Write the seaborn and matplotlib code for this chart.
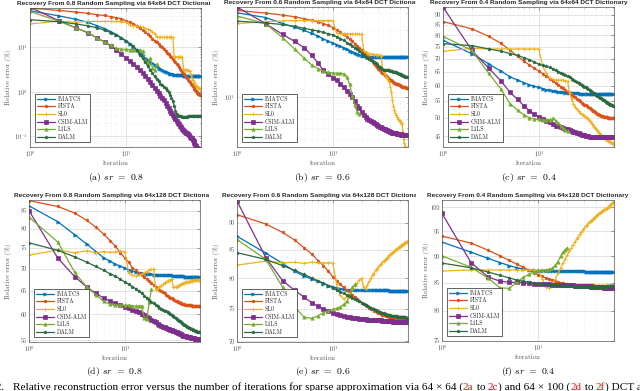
"""Recreate the six-panel recovery-error figure (relative error vs iteration)."""

import matplotlib

matplotlib.use("Agg")

import matplotlib.pyplot as plt
import numpy as np
import pandas as pd
import seaborn as sns
from matplotlib.text import Annotation
from matplotlib.ticker import FixedLocator, FixedFormatter, NullFormatter, LogLocator
from matplotlib.transforms import Bbox, TransformedBbox

W_PX, H_PX = 640, 391

ITERATIONS = np.arange(1, 61)
METHODS = ["IMATCS", "FISTA", "SL0", "CSIM-ALM", "L1LS", "DALM"]
COLORS = {
    "IMATCS": "#0072BD",
    "FISTA": "#D95319",
    "SL0": "#EDB120",
    "CSIM-ALM": "#7E2F8E",
    "L1LS": "#77AC30",
    "DALM": "#2B6A40",
}
MARKERS = {
    "IMATCS": ">",
    "FISTA": (6, 1, 0),
    "SL0": "+",
    "CSIM-ALM": "s",
    "L1LS": "^",
    "DALM": (5, 1, 0),
}

# ---- (a) 0.8 sampling, 64x64 ----
A_IMATCS = [65, 50, 42, 36, 30, 26, 22, 19, 16, 13.5,
            11.5, 10, 8.6, 7.4, 6.5, 5.8, 5.2, 4.7, 4.3, 4.0,
            3.7, 3.45, 3.25, 3.05, 2.9, 2.8, 2.7, 2.6, 2.55, 2.5,
            2.46, 2.43, 2.4, 2.38, 2.36, 2.35, 2.34, 2.33, 2.32, 2.32,
            2.31, 2.31, 2.31, 2.3, 2.3, 2.3, 2.3, 2.3, 2.3, 2.3,
            2.3, 2.3, 2.3, 2.3, 2.3, 2.3, 2.3, 2.3, 2.3, 2.3]
A_FISTA = [75, 66, 61, 57, 53, 51, 48, 45.5, 43, 39,
           36, 33.5, 30, 26.5, 24, 21.5, 19.5, 17.5, 15.5, 14,
           13, 12, 10.5, 9.8, 9, 8.3, 7.5, 6.9, 6.4, 5.9,
           5.5, 5.0, 4.6, 4.2, 3.9, 3.6, 3.3, 3.0, 2.8, 2.6,
           2.45, 2.3, 2.15, 2.0, 1.85, 1.75, 1.62, 1.52, 1.42, 1.33,
           1.25, 1.17, 1.1, 1.04, 0.99, 0.95, 0.91, 0.88, 0.86, 0.84]
A_SL0 = [33, 38, 36, 37.5, 37.5, 37.5, 37.5, 37.5, 37, 36.5,
         31, 30, 29.5, 29, 28, 26, 25, 24, 22, 20,
         17, 16.8, 16.8, 16.7, 16.7, 16.7, 16.7, 16.6, 16.6, 16.6,
         16.5, 6.2, 6.1, 6.0, 6.0, 6.0, 6.0, 6.0, 5.9, 3.2,
         3.1, 3.05, 3.0, 3.0, 3.0, 2.95, 2.9, 2.4, 2.0, 1.8,
         1.65, 1.55, 1.45, 1.38, 1.32, 1.27, 1.23, 1.2, 1.18, 1.16]
A_CSIM = [78, 39, 27, 21, 16, 13, 10.5, 8.6, 7.0, 5.7,
          4.8, 4.1, 3.5, 3.0, 2.6, 2.2, 1.9, 1.65, 1.4, 1.2,
          1.05, 0.92, 0.82, 0.72, 0.64, 0.56, 0.49, 0.43, 0.37, 0.33,
          0.3, 0.27, 0.245, 0.225, 0.205, 0.19, 0.175, 0.162, 0.15, 0.14,
          0.132, 0.126, 0.12, 0.118, 0.112, 0.105, 0.099, 0.094, 0.09, 0.085,
          0.079, 0.072, 0.065, 0.06, 0.056, 0.054, 0.052, 0.05, 0.048, 0.046]
A_L1LS = [63, 38, 27, 21.5, 16, 13, 11, 9.3, 9.0, 8.9,
          8.8, 8.7, 8.7, 8.6, 8.0, 5.2, 4.3, 5.6, 3.4, 3.0, 4.2]
A_DALM = [41, 37, 33, 30, 27, 24, 21, 18.5, 16, 14,
          12, 10.5, 8.5, 6.8, 5.6, 4.6, 3.7, 3.1, 2.6, 2.2,
          1.9, 1.7, 1.5, 1.4, 1.3, 1.2, 1.1, 1.0, 0.85, 0.72,
          0.62, 0.48, 0.38, 0.32, 0.29, 0.28, 0.28, 0.28, 0.27, 0.27,
          0.27, 0.27, 0.27, 0.27, 0.28, 0.28, 0.28, 0.28, 0.28, 0.28,
          0.28, 0.28, 0.28, 0.28, 0.28, 0.28, 0.28, 0.28, 0.28, 0.28]

# ---- (b) 0.6 sampling, 64x64 ----
B_IMATCS = [40, 37, 33.5, 31.5, 30, 28.5, 27.2, 26, 25, 24.3,
            23.6, 23, 22.4, 21.9, 21.4, 21, 20.6, 20.3, 20, 19.8,
            19.6, 19.5, 19.4, 19.4, 19.3, 19.3, 19.3, 19.3, 19.3, 19.3,
            19.3, 19.3, 19.3, 19.3, 19.3, 19.3, 19.3, 19.3, 19.3, 19.3,
            19.3, 19.3, 19.3, 19.3, 19.3, 19.3, 19.3, 19.3, 19.3, 19.3,
            19.3, 19.3, 19.3, 19.3, 19.3, 19.3, 19.3, 19.3, 19.3, 19.3]
B_FISTA = [41.6, 39.8, 38.5, 37.5, 36.3, 35.3, 34.5, 33.5, 32.5, 31.4,
           30.2, 29, 28, 27, 26, 25, 24, 23.2, 22.5, 21.8,
           21, 20.3, 19.6, 19, 18.4, 17.8, 17.3, 16.8, 16.3, 15.9,
           15.5, 15.2, 14.9, 14.6, 14.4, 14.1, 13.9, 13.7, 13.5, 13.3,
           13.2, 13.0, 12.9, 12.7, 12.6, 12.5, 12.4, 12.3, 12.2, 12.1,
           12.0, 12.0, 11.9, 11.9, 11.8, 11.8, 11.8, 11.7, 11.7, 11.7]
B_SL0 = [33.5, 34.5, 35, 35.2, 35.2, 35.2, 35.2, 35.2, 35.2, 35.2,
         28.5, 28.4, 28.4, 28.3, 28.3, 28.3, 28.2, 28.2, 28.2, 28.1,
         21.5, 21, 20.6, 20.4, 20.3, 20.2, 20.1, 20, 20, 19.9,
         19.9, 19.8, 16, 15.1, 14.5, 14, 13.6, 13.2, 12.8, 11.8,
         10.9, 9.5, 8.7, 8.1, 7.7, 7.4, 7.2, 7.0, 6.9, 6.8,
         6.6, 6.5, 6.4, 5.6, 5.0, 4.7, 4.5, 4.3, 4.2, 4.1]
B_CSIM = [44, 33.4, 28, 25, 22.5, 20, 17.5, 15.5, 14.5, 13.8,
          13.2, 12.5, 11.8, 11.1, 10.5, 10, 9.4, 8.7, 8.3, 7.8,
          7.5, 7.2, 7.0, 6.9, 6.7, 6.6, 6.5, 6.4, 6.3, 6.2,
          6.15, 6.1, 6.0, 5.95, 5.9, 5.85, 5.8, 5.75, 5.7, 5.65,
          5.6, 5.58, 5.56, 5.54, 5.52, 5.5, 5.48, 5.46, 5.45, 5.44,
          5.42, 5.4, 5.39, 5.38, 5.37, 5.36, 5.35, 5.34, 5.33, 5.32]
B_L1LS = [38, 33.4, 26.5, 22, 19, 17, 16, 15.3, 15, 14.9,
          14.8, 14.8, 14.7, 14.0, 12.3, 10.2, 8.8, 7.8, 7.6]
B_DALM = [34.9, 33.8, 33, 32, 31, 30.3, 29.6, 29, 28.3, 27.8,
          27, 26.2, 25.4, 24.5, 23.8, 23.2, 22.6, 22.2, 21.5, 20.5,
          19.9, 19.4, 19, 18.7, 18.4, 18.2, 17.9, 17.6, 17.2, 16.8,
          16.4, 16.1, 15.9, 15.7, 15.6, 15.6, 15.5, 15.5, 15.5, 15.4,
          15.3, 15.3, 15.2, 15.2, 15.1, 15.0, 14.9, 14.8, 14.7, 14.6,
          14.5, 14.4, 14.3, 14.2, 14.1, 14.1, 14.0, 14.0, 13.9, 13.9]

# ---- (c) 0.4 sampling, 64x64 ----
C_IMATCS = [77.7, 72, 68, 65.2, 63.2, 61.9, 61, 60.3, 59.8, 59.4,
            59.0, 58.7, 58.5, 58.3, 58.1, 58.0, 57.9, 57.8, 57.7, 57.6,
            57.5, 57.5, 57.4, 57.4, 57.4, 57.4, 57.3, 57.3, 57.3, 57.3,
            57.3, 57.3, 57.3, 57.3, 57.3, 57.3, 57.3, 57.3, 57.3, 57.3,
            57.3, 57.3, 57.3, 57.3, 57.3, 57.3, 57.3, 57.3, 57.3, 57.3,
            57.3, 57.3, 57.3, 57.3, 57.3, 57.3, 57.3, 57.3, 57.3, 57.3]
C_FISTA = [86.5, 83, 79.5, 76.5, 73.5, 71, 69, 67.5, 66.3, 65.2,
           64.2, 63.3, 62.5, 61.7, 61, 60.3, 59.7, 59.1, 58.5, 58,
           57.5, 57, 56.5, 56.1, 55.7, 55.3, 54.9, 54.5, 54.2, 53.9,
           53.6, 53.3, 53, 52.7, 52.5, 52.2, 52, 51.8, 51.6, 51.4,
           51.2, 51.0, 50.9, 50.7, 50.6, 50.5, 50.4, 50.3, 50.2, 50.2,
           50.1, 50.1, 50.0, 50.0, 50.0, 50.0, 50.0, 50.0, 50.0, 50.0]
C_SL0 = [73, 74.3, 74, 74, 74, 74, 74, 74, 74, 74,
         67, 64.5, 62.6, 62.2, 62, 62, 62, 62, 61.8, 61.5,
         57.5, 55.5, 54.2, 53.2, 52.4, 51.8, 51.3, 51, 50.8, 50.6,
         50.3, 49.9, 49.5, 49.1, 48.7, 48.3, 47.9, 47.5, 47.2, 46.9,
         46.5, 46.2, 45.9, 45.6, 45.3, 45.0, 44.8, 44.6, 44.4, 44.2,
         44.0, 43.9, 43.8, 43.7, 43.6, 43.5, 43.4, 43.3, 43.2, 43.1]
C_CSIM = [94, 73.4, 66.3, 61.8, 57.8, 55.5, 53.5, 52, 51, 50.3,
          49.7, 49.2, 48.7, 48.2, 47.8, 47.6, 47.4, 47.2, 47.0, 46.8,
          46.6, 46.4, 46.2, 46.0, 45.9, 45.7, 45.6, 45.4, 45.3, 45.2,
          45.1, 45.0, 45.0, 44.9, 44.9, 44.8, 44.8, 44.8, 44.8, 44.8,
          44.8, 44.8, 44.8, 44.8, 44.8, 44.8, 44.8, 44.8, 44.8, 44.8,
          44.8, 44.8, 44.8, 44.8, 44.8, 44.8, 44.8, 44.8, 44.8, 44.8]
C_L1LS = [79.5, 73.4, 64.4, 59, 54.2, 52.2, 50.8, 50, 49.6, 49.5,
          49.4, 49.3, 49.4, 49.8, 49.2, 48.5, 47.8, 47.2, 46.7, 46.3]
C_DALM = [76.3, 75.4, 74, 73.1, 72.1, 71.3, 70.4, 69.6, 68.7, 67.8,
          67.4, 67, 66.6, 66.1, 65.6, 65, 64.6, 64.2, 63.8, 63.3,
          62.9, 62.5, 62.1, 61.7, 61.3, 61, 60.6, 60.3, 60, 59.7,
          59.4, 59.1, 58.8, 58.5, 58.2, 58, 57.7, 57.4, 57.2, 56.9,
          56.7, 56.5, 56.2, 56, 55.8, 55.6, 55.4, 55.2, 55, 54.8,
          54.6, 54.5, 54.3, 54.1, 54, 53.9, 53.8, 53.6, 53.5, 53.4]

# ---- (d) 0.8 sampling, 64x128 ----
D_IMATCS = [86.4, 81.9, 78.4, 76, 74.1, 72.6, 71.7, 71.0, 70.5, 70.1,
            69.7, 69.4, 69.2, 69.0, 68.9, 68.8, 68.8, 68.7, 68.7, 68.6,
            68.6, 68.6, 68.5, 68.5, 68.5, 68.5, 68.4, 68.4, 68.4, 68.4,
            68.4, 68.3, 68.3, 68.3, 68.3, 68.3, 68.2, 68.2, 68.2, 68.2,
            68.2, 68.2, 68.1, 68.1, 68.1, 68.1, 68.1, 68.1, 68.1, 68.1,
            68.0, 68.0, 68.0, 68.0, 68.0, 68.0, 68.0, 68.0, 68.0, 68.0]
D_FISTA = [87.9, 86.2, 84.3, 82.3, 80.4, 78.6, 76.9, 75.4, 73.8, 72.5,
           71.5, 70.2, 69.6, 69.0, 68.5, 68.0, 67.6, 67.1, 66.6, 66.2,
           65.8, 65.5, 65.2, 64.9, 64.6, 64.4, 64.1, 63.9, 63.7, 63.5,
           63.3, 63.1, 63.0, 62.8, 62.7, 62.6, 62.5, 62.4, 62.3, 62.2,
           62.1, 62.1, 62.0, 62.0, 62.0, 61.9, 61.9, 61.9, 61.9, 61.8,
           61.8, 61.8, 61.8, 61.8, 61.7, 61.7, 61.7, 61.7, 61.7, 61.7]
D_SL0 = [73.2, 74.5, 73.8, 74.3, 73.8, 74.1, 73.9, 74.0, 74.2, 74.1,
         69.0, 68.5, 68.2, 68.4, 68.7, 69.0, 69.3, 69.6, 69.8, 69.9,
         65.2, 65.5, 65.8, 66.1, 66.4, 66.7, 66.9, 67.1, 67.3, 67.4,
         67.5, 65.8, 65.7, 65.8, 65.9, 66.0, 66.2, 66.3, 66.4, 66.5,
         66.6, 66.7, 66.8, 66.9, 66.9, 67.0, 67.0, 67.1, 67.1, 67.2,
         67.2, 67.2, 67.3, 67.3, 67.3, 67.3, 67.4, 67.4, 67.4, 67.4]
D_CSIM = [85, 72.5, 68.1, 65.8, 64.4, 63.4, 62.8, 62.3, 61.9, 61.6,
          61.3, 61.0, 60.7, 60.4, 60.1, 59.8, 59.5, 59.2, 58.9, 58.6,
          58.4, 58.2, 58.0, 57.8, 57.6, 57.5, 57.3, 57.2, 57.1, 57.0,
          56.9, 56.8, 56.7, 56.6, 56.5, 56.4, 56.3, 56.2, 56.1, 56.0,
          55.9, 55.85, 55.8, 55.75, 55.7, 55.65, 55.6, 55.55, 55.5, 55.45,
          55.4, 55.38, 55.36, 55.34, 55.32, 55.3, 55.28, 55.26, 55.24, 55.22]
D_L1LS = [83.2, 76.5, 69.1, 65.8, 64.1, 62.7, 62.1, 62.0, 61.9, 61.9,
          61.9, 61.8, 61.7, 61.7, 61.8, 59.3, 59.1, 62.5, 65.3]
D_DALM = [76.3, 74.4, 72.8, 71.5, 70.5, 69.6, 68.8, 68.2, 67.5, 66.9,
          66.4, 65.9, 65.4, 64.9, 64.4, 63.9, 63.4, 63.0, 62.6, 62.3,
          62.0, 61.7, 61.4, 61.2, 61.0, 60.8, 60.6, 60.4, 60.2, 60.0,
          59.8, 59.6, 59.4, 59.2, 59.0, 58.9, 58.7, 58.6, 58.4, 58.3,
          58.1, 58.0, 57.9, 57.8, 57.6, 57.5, 57.4, 57.3, 57.2, 57.1,
          57.0, 56.95, 56.9, 56.8, 56.75, 56.7, 56.65, 56.6, 56.55, 56.5]

# ---- (e) 0.6 sampling, 64x128 ----
E_IMATCS = [87.5, 84.4, 82.6, 81.2, 80.4, 79.9, 79.5, 79.1, 78.8, 78.6,
            78.4, 78.3, 78.2, 78.1, 78.05, 78.0, 78.0, 78.0, 78.0, 78.0,
            78.0, 78.0, 78.0, 78.0, 78.0, 78.0, 78.0, 78.0, 78.0, 78.0,
            78.0, 78.0, 78.0, 78.0, 78.0, 78.0, 78.0, 78.0, 78.0, 77.9,
            77.9, 77.9, 77.9, 77.9, 77.9, 77.9, 77.9, 77.9, 77.9, 77.9,
            77.9, 77.9, 77.9, 77.9, 77.9, 77.9, 77.9, 77.9, 77.9, 77.9]
E_FISTA = [91.6, 89.8, 88.2, 86.8, 85.4, 84.3, 83.1, 82.2, 81.2, 80.3,
           79.6, 79.0, 78.5, 78.0, 77.6, 77.2, 76.9, 76.6, 76.3, 76.0,
           75.8, 75.6, 75.4, 75.2, 75.0, 74.9, 74.7, 74.6, 74.5, 74.4,
           74.3, 74.2, 74.1, 74.0, 73.95, 73.9, 73.85, 73.8, 73.75, 73.7,
           73.7, 73.7, 73.65, 73.65, 73.6, 73.6, 73.6, 73.55, 73.55, 73.5,
           73.5, 73.5, 73.5, 73.45, 73.45, 73.45, 73.4, 73.4, 73.4, 73.4]
E_SL0 = [82.3, 83, 82.7, 82.8, 82.6, 82.8, 82.7, 82.7, 82.7, 82.7,
         79, 77.2, 76.6, 76.9, 77.5, 78.3, 78.8, 79.3, 79.8, 80.0,
         78.5, 78.3, 78.9, 79.5, 80.1, 80.6, 81.0, 81.4, 81.7, 82.0,
         82.3, 82.5, 82.8, 83.0, 83.2, 83.4, 83.6, 83.8, 84.0, 84.2,
         84.35, 84.5, 84.65, 84.8, 84.95, 85.1, 85.2, 85.35, 85.5, 85.6,
         85.7, 85.8, 85.9, 86.0, 86.1, 86.2, 86.3, 86.4, 86.5, 86.55]
E_CSIM = [94.3, 83.6, 79.6, 78.0, 76.9, 76.0, 75.4, 75.0, 74.6, 74.4,
          74.2, 74.0, 73.85, 73.75, 73.65, 73.6, 73.55, 73.5, 73.45, 73.4,
          73.35, 73.35, 73.3, 73.3, 73.3, 73.25, 73.25, 73.25, 73.2, 73.2,
          73.2, 73.2, 73.15, 73.15, 73.15, 73.1, 73.1, 73.1, 73.1, 73.05,
          73.05, 73.05, 73.0, 73.0, 73.0, 73.0, 73.0, 72.95, 72.95, 72.95,
          72.95, 72.95, 72.9, 72.9, 72.9, 72.9, 72.9, 72.9, 72.9, 72.9]
E_L1LS = [86.9, 83.3, 78.5, 75.3, 73.7, 73.5, 73.9, 74.4, 74.7, 74.9,
          75.1, 75.3, 75.7, 76.2, 77.0, 78.5, 79.0]
E_DALM = [84.5, 83.3, 82.2, 81.4, 80.7, 80.1, 79.6, 79.2, 78.8, 78.4,
          78.1, 77.8, 77.5, 77.2, 77.0, 76.8, 76.6, 76.4, 76.2, 76.0,
          75.8, 75.6, 75.5, 75.3, 75.2, 75.0, 74.9, 74.8, 74.7, 74.6,
          74.5, 74.4, 74.35, 74.3, 74.2, 74.15, 74.1, 74.05, 74.0, 73.95,
          73.9, 73.9, 73.85, 73.85, 73.8, 73.8, 73.8, 73.75, 73.75, 73.75,
          73.7, 73.7, 73.7, 73.7, 73.65, 73.65, 73.65, 73.6, 73.6, 73.6]

# ---- (f) 0.4 sampling, 64x128 ----
F_IMATCS = [92.8, 90.8, 89.6, 88.8, 88.2, 87.8, 87.6, 87.4, 87.3, 87.25,
            87.2, 87.2, 87.2, 87.2, 87.2, 87.2, 87.2, 87.2, 87.2, 87.2,
            87.2, 87.2, 87.2, 87.2, 87.2, 87.2, 87.2, 87.2, 87.2, 87.2,
            87.1, 87.1, 87.1, 87.1, 87.1, 87.1, 87.1, 87.1, 87.1, 87.1,
            87.1, 87.1, 87.1, 87.1, 87.1, 87.1, 87.1, 87.0, 87.0, 87.0,
            87.0, 87.0, 87.0, 87.0, 87.0, 87.0, 87.0, 87.0, 87.0, 87.0]
F_FISTA = [94, 92.6, 91.2, 90.1, 89.2, 88.5, 87.9, 87.3, 86.9, 86.5,
           86.2, 85.9, 85.7, 85.5, 85.3, 85.1, 85.0, 84.9, 84.8, 84.75,
           84.7, 84.7, 84.7, 84.65, 84.65, 84.65, 84.6, 84.6, 84.6, 84.6,
           84.6, 84.55, 84.55, 84.55, 84.55, 84.55, 84.55, 84.5, 84.5, 84.5,
           84.5, 84.5, 84.5, 84.5, 84.5, 84.5, 84.5, 84.5, 84.5, 84.5,
           84.5, 84.5, 84.5, 84.5, 84.5, 84.5, 84.5, 84.5, 84.5, 84.5]
F_SL0 = [87.2, 87.4, 87.4, 87.4, 87.4, 87.4, 87.4, 87.4, 87.4, 87.3,
         85.7, 84.3, 84.0, 84.9, 85.7, 86.8, 87.7, 88.7, 89.5, 90.3,
         91.0, 91.7, 92.3, 92.9, 93.4, 93.9, 94.4, 94.9, 95.3, 95.7,
         96.0, 96.3, 96.6, 96.9, 97.2, 97.4, 97.6, 97.8, 98.0, 98.2,
         98.4, 98.6, 98.8, 98.9, 99.1, 99.3, 99.4, 99.5, 99.6, 99.7,
         99.8, 99.9, 100.0, 100.1, 100.3, 100.5, 100.7, 100.9, 101.0, 101.1]
F_CSIM = [98.7, 88.8, 86.1, 85.3, 85.1, 85.1, 85.0, 84.9, 84.85, 84.8,
          84.8, 84.75, 84.75, 84.7, 84.7, 84.7, 84.65, 84.65, 84.6, 84.6,
          84.6, 84.55, 84.55, 84.5, 84.5, 84.5, 84.45, 84.45, 84.4, 84.4,
          84.4, 84.35, 84.35, 84.35, 84.3, 84.3, 84.3, 84.3, 84.25, 84.25,
          84.25, 84.25, 84.2, 84.2, 84.2, 84.2, 84.2, 84.15, 84.15, 84.15,
          84.15, 84.15, 84.1, 84.1, 84.1, 84.1, 84.1, 84.1, 84.1, 84.1]
F_L1LS = [90.1, 87.9, 85.9, 84.1, 84.0, 85.2, 86.0, 86.6, 87.0, 87.3,
          87.4, 87.4, 87.5, 87.7, 88.3, 89.0, 90.0, 90.8, 91.3, 91.7]
F_DALM = [88.7, 87.8, 87.0, 86.4, 85.9, 85.5, 85.3, 85.1, 84.95, 84.85,
          84.8, 84.75, 84.7, 84.65, 84.6, 84.55, 84.5, 84.45, 84.4, 84.4,
          84.35, 84.35, 84.35, 84.3, 84.3, 84.3, 84.3, 84.25, 84.25, 84.25,
          84.25, 84.25, 84.2, 84.2, 84.2, 84.2, 84.2, 84.2, 84.2, 84.2,
          84.2, 84.2, 84.2, 84.2, 84.2, 84.25, 84.25, 84.25, 84.3, 84.3,
          84.3, 84.35, 84.35, 84.4, 84.4, 84.4, 84.45, 84.45, 84.5, 84.5]

TITLES = [
    "Recovery From 0.8 Random Sampling via 64x64 DCT Dictionary",
    "Recovery From 0.6 Random Sampling via 64x64 DCT Dictionary",
    "Recovery From 0.4 Random Sampling via 64x64 DCT Dictionary",
    "Recovery From 0.8 Random Sampling via 64x128 DCT Dictionary",
    "Recovery From 0.6 Random Sampling via 64x128 DCT Dictionary",
    "Recovery From 0.4 Random Sampling via 64x128 DCT Dictionary",
]
SUBCAPTIONS = ["(a) $sr$ $=$ $0.8$", "(b) $sr$ $=$ $0.6$", "(c) $sr$ $=$ $0.4$",
               "(d) $sr$ $=$ $0.8$", "(e) $sr$ $=$ $0.6$", "(f) $sr$ $=$ $0.4$"]
YLIMS = [(0.058, 75), (4.4, 44), (42.3, 94), (54.7, 88.1), (69.9, 94.5), (75, 101.6)]
YTICKS = [
    None,
    None,
    [45, 50, 55, 60, 65, 70, 75, 80, 85, 90],
    [55, 60, 65, 70, 75, 80, 85],
    [70, 75, 80, 85, 90],
    [75, 80, 85, 90, 95, 100],
]
SERIES = [
    [A_IMATCS, A_FISTA, A_SL0, A_CSIM, A_L1LS, A_DALM],
    [B_IMATCS, B_FISTA, B_SL0, B_CSIM, B_L1LS, B_DALM],
    [C_IMATCS, C_FISTA, C_SL0, C_CSIM, C_L1LS, C_DALM],
    [D_IMATCS, D_FISTA, D_SL0, D_CSIM, D_L1LS, D_DALM],
    [E_IMATCS, E_FISTA, E_SL0, E_CSIM, E_L1LS, E_DALM],
    [F_IMATCS, F_FISTA, F_SL0, F_CSIM, F_L1LS, F_DALM],
]

# pixel boxes (left, top, right, bottom) and clip ranges for the panel titles
AX_BOXES = [(30, 8, 201, 147), (237, 7, 408, 147), (443, 7, 614, 147),
            (29, 200, 200, 342), (237, 200, 408, 342), (442, 200, 614, 341)]
TITLE_CLIP = [(0, 210), (212, 416), (418, 640), (0, 209), (212, 416), (418, 640)]
YLABEL_X = [9, 217, 427, 9, 217, 427]


def fx(px):
    return px / W_PX


def fy(py):
    return 1 - py / H_PX


def draw_panel(fig, idx):
    x0, y0, x1, y1 = AX_BOXES[idx]
    ax = fig.add_axes([fx(x0), fy(y1), (x1 - x0) / W_PX, (y1 - y0) / H_PX])
    for method, vals in zip(METHODS, SERIES[idx]):
        df = pd.DataFrame({"iteration": ITERATIONS[: len(vals)], "err": vals})
        sns.lineplot(
            data=df, x="iteration", y="err", ax=ax,
            color=COLORS[method], marker=MARKERS[method], markersize=2.4,
            markerfacecolor=COLORS[method], markeredgecolor=COLORS[method],
            markeredgewidth=0.5, linewidth=0.9, label=method, legend=False,
        )
    ax.set_xscale("log")
    ax.set_yscale("log")
    ax.set_xlim(1, 61)
    ax.set_ylim(*YLIMS[idx])
    if YTICKS[idx] is not None:
        ax.yaxis.set_major_locator(FixedLocator(YTICKS[idx]))
        ax.yaxis.set_major_formatter(FixedFormatter([str(t) for t in YTICKS[idx]]))
        ax.yaxis.set_minor_locator(LogLocator(base=10, subs=np.arange(1, 10) * 0.1, numticks=100))
    ax.yaxis.set_minor_formatter(NullFormatter())
    ax.xaxis.set_minor_formatter(NullFormatter())

    ax.grid(True, which="major", color="#d9d9d9", linewidth=0.5)
    ax.grid(True, which="minor", color="#e6e6e6", linewidth=0.4, linestyle=":")
    ax.set_axisbelow(True)
    for sp in ax.spines.values():
        sp.set_color("#555555")
        sp.set_linewidth(0.5)
    ax.tick_params(which="both", direction="in", top=True, right=True,
                   color="#555555", width=0.4, labelsize=4.5, labelcolor="#555555", pad=1.5)
    ax.tick_params(which="major", length=2)
    ax.tick_params(which="minor", length=1)
    ax.set_xlabel("")
    ax.set_ylabel("")

    leg = ax.legend(loc="lower left", fontsize=4.2, frameon=True, fancybox=False,
                    edgecolor="#222222", framealpha=1, handlelength=3.0,
                    borderpad=0.35, labelspacing=0.3, handletextpad=0.5,
                    borderaxespad=0.9)
    leg.get_frame().set_linewidth(0.5)

    cx = (x0 + x1) / 2
    t = fig.text(fx(cx), fy(y0 - 4.5), TITLES[idx], ha="center", va="center",
                 fontsize=4.65, fontweight="bold", family="Liberation Sans")
    c0, c1 = TITLE_CLIP[idx]
    t.set_clip_box(TransformedBbox(Bbox.from_extents(fx(c0), 0, fx(c1), 1), fig.transFigure))
    t.set_clip_on(True)

    fig.text(fx(YLABEL_X[idx]), fy((y0 + y1) / 2), "Relative error (%)", rotation=90,
             ha="center", va="center", fontsize=5, color="#555555")
    fig.text(fx(cx), fy(y1 + 16), "iteration", ha="center", va="center",
             fontsize=5, color="#555555")
    fig.text(fx(cx), fy(y1 + 30), SUBCAPTIONS[idx], ha="center", va="center",
             fontsize=7.0, color="black")


def main():
    sns.set_theme(style="white")
    plt.rcParams["font.family"] = ["cmr10", "DejaVu Serif"]
    plt.rcParams["mathtext.fontset"] = "cm"
    plt.rcParams["axes.formatter.use_mathtext"] = True

    fig = plt.figure(figsize=(W_PX / 100, H_PX / 100), dpi=100)
    for idx in range(6):
        draw_panel(fig, idx)

    # figure caption (partly cut at the left and right edges)
    cap_y = fy(389.5)
    cap_kw = dict(fontsize=8.1, family="Liberation Serif", va="baseline")
    fig.text(fx(4), cap_y, "Fig. 2.", ha="right", color="black", **cap_kw)
    pieces = [
        ("Relative reconstruction error versus the number of iterations for sparse approximation via 64 \u00d7 64 (", "black"),
        ("2a", "red"), (" to ", "black"), ("2c", "red"),
        (") and 64 \u00d7 100 (", "black"), ("2d", "red"), (" to ", "black"), ("2f", "red"),
        (") DCT atoms.", "black"),
    ]
    prev = fig.text(fx(13), cap_y, pieces[0][0], ha="left", color=pieces[0][1], **cap_kw)
    for text, color in pieces[1:]:
        ann = Annotation(text, xy=(1, 0), xycoords=prev, ha="left", color=color,
                         fontsize=8.1, family="Liberation Serif", va="bottom")
        fig.add_artist(ann)
        prev = ann

    fig.savefig("out.png", dpi=100)
    plt.close(fig)


if __name__ == "__main__":
    main()
